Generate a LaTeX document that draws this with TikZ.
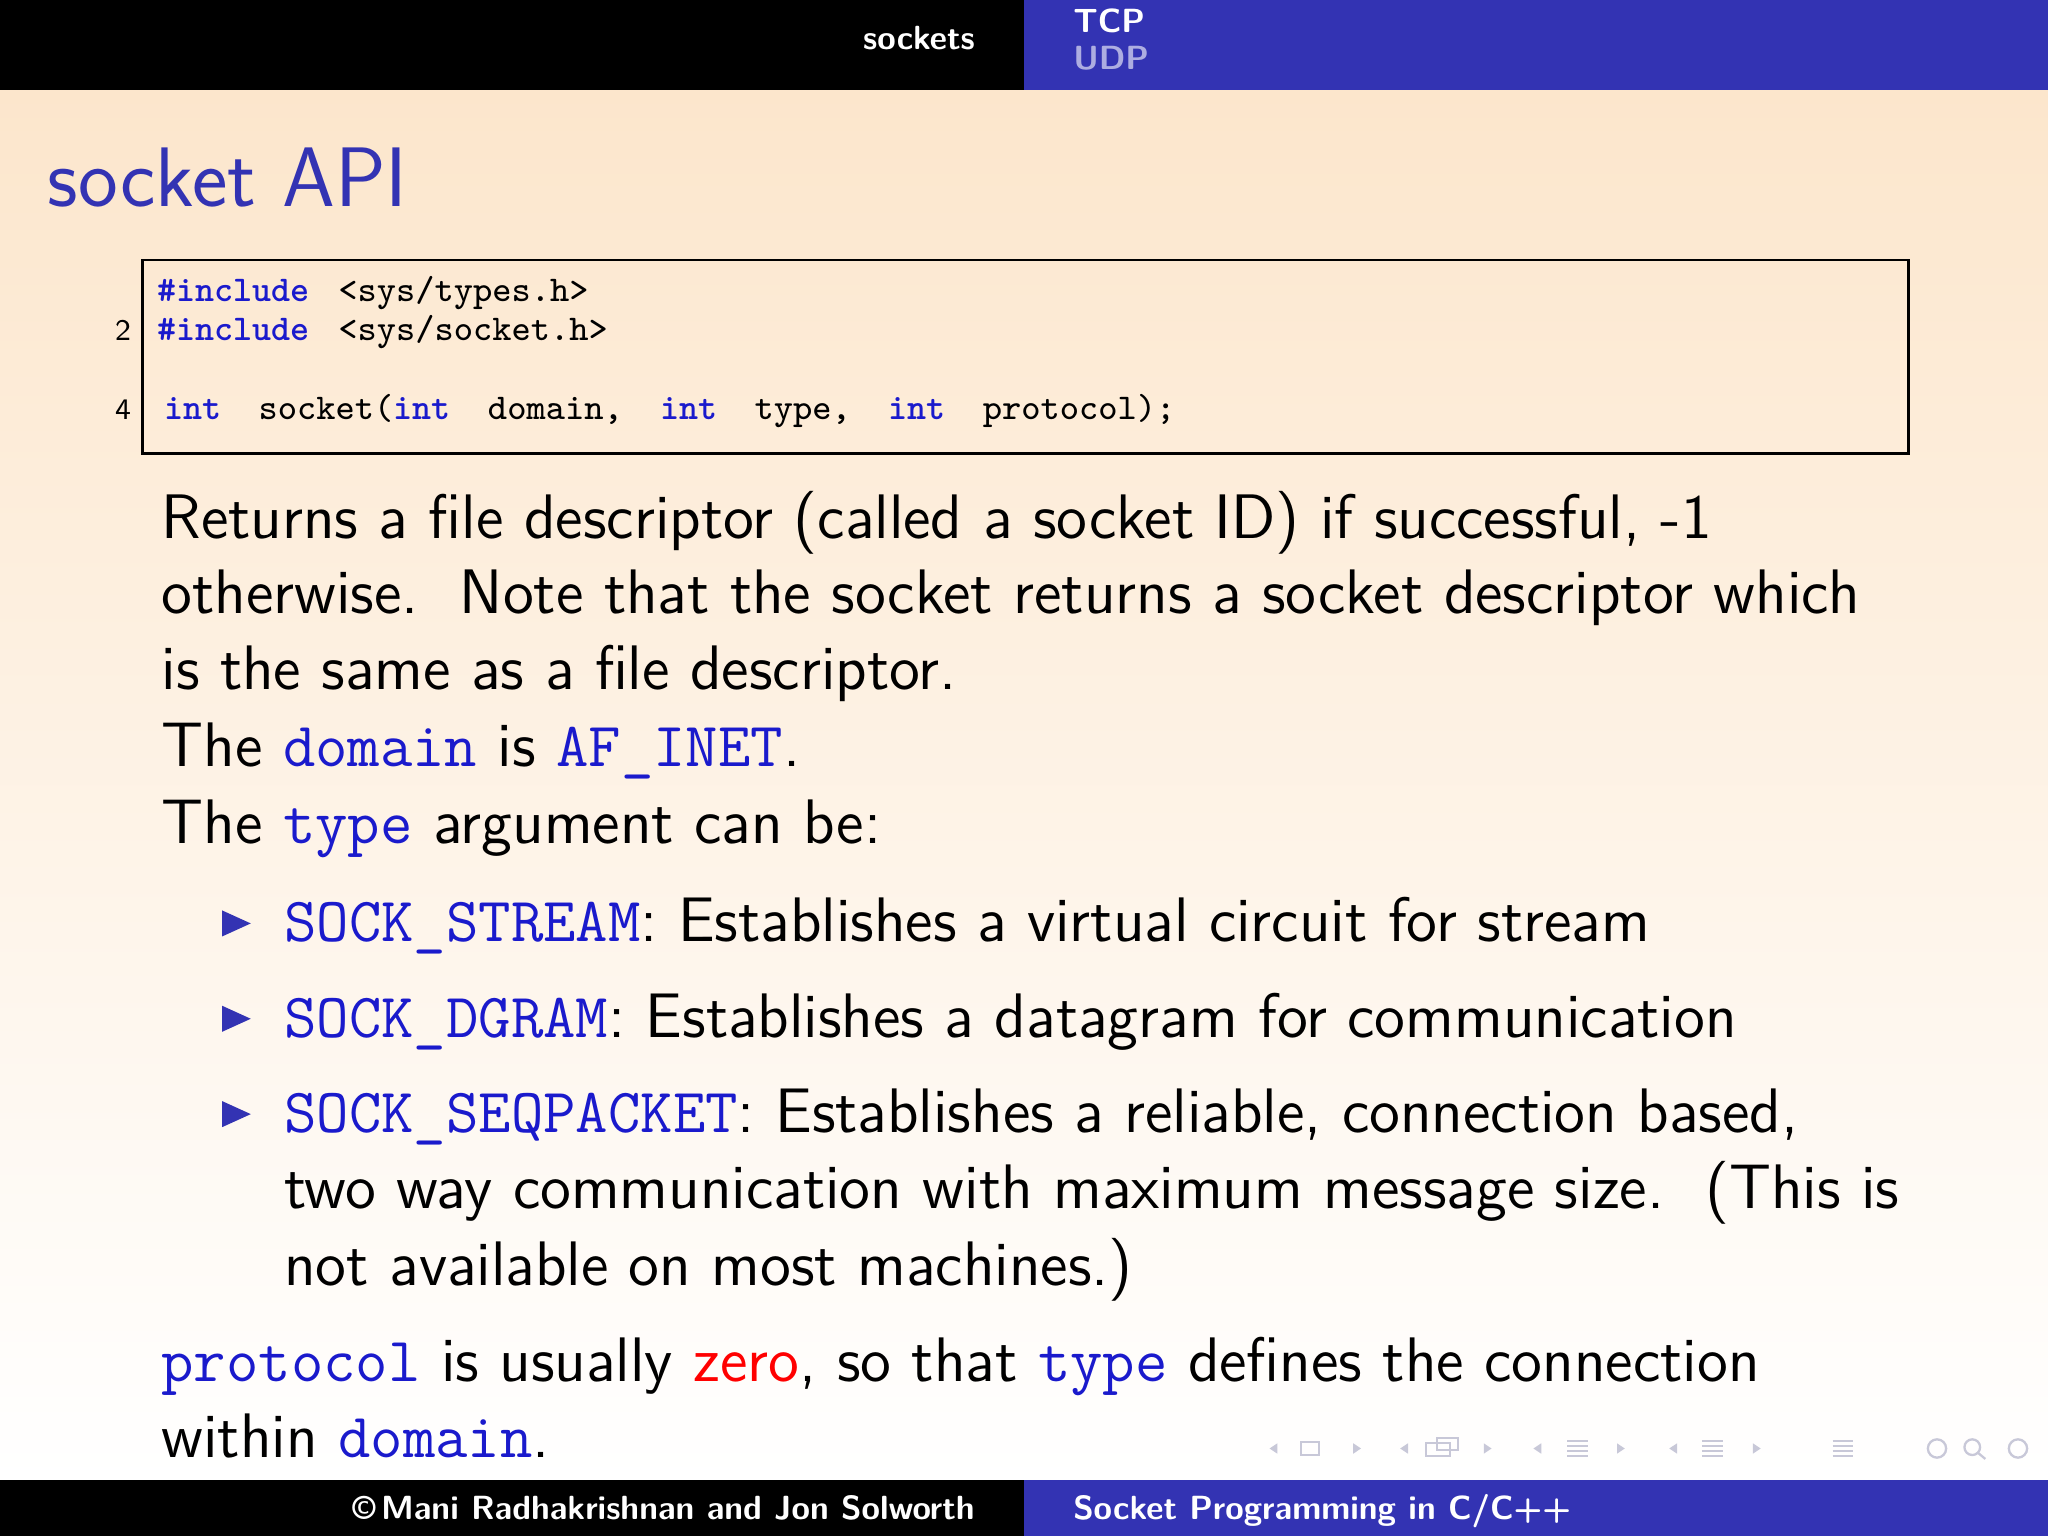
\documentclass[tikz,border=0pt]{standalone}
\usepackage{xcolor}
\definecolor{hdrblue}{HTML}{3333B3}
\definecolor{kw}{HTML}{1A1ACC}
\definecolor{titleblue}{HTML}{3333B3}
\definecolor{bgtop}{HTML}{FCE6CC}
\definecolor{navg}{HTML}{C8C8D8}
\tikzset{
 body/.style={anchor=base west,inner sep=0,font=\sffamily\fontsize{13.7}{16}\selectfont},
 code/.style={anchor=base west,inner sep=0,font=\ttfamily\fontsize{7.9}{9}\selectfont},
 lnum/.style={anchor=base east,inner sep=0,font=\sffamily\fontsize{6.5}{8}\selectfont},
 hdr/.style={anchor=base west,inner sep=0,text=white,font=\sffamily\bfseries\fontsize{7.3}{8}\selectfont},
 bul/.style={fill=hdrblue,draw=none},
}
\newcommand{\kwd}[1]{\textcolor{kw}{\ttfamily\bfseries #1}}
\newcommand{\bt}[1]{\textcolor{kw}{\ttfamily #1}}
\newcommand{\csp}{\hspace{0.25em}}
\begin{document}
\begin{tikzpicture}[y=-1cm,x=1cm]
\useasboundingbox (0,0) rectangle (15.68,11.76);
\shade[top color=bgtop,bottom color=white] (0,0.69) rectangle (15.68,11.33);
\fill[black] (0,0) rectangle (7.84,0.69);
\fill[hdrblue] (7.84,0) rectangle (15.68,0.69);
\fill[black] (0,11.33) rectangle (7.84,11.76);
\fill[hdrblue] (7.84,11.33) rectangle (15.68,11.76);
\node[hdr,anchor=base east] (sk) at (7.47,0.38) {sockets};
\node[hdr] (tcp) at (8.21,0.25) {TCP};
\node[hdr,text=white!60!hdrblue] (udp) at (8.21,0.53) {UDP};
\node[hdr,anchor=base east] (author) at (7.47,11.63) {\textcopyright\,Mani Radhakrishnan and Jon Solworth};
\node[hdr] (ftitle) at (8.21,11.63) {Socket Programming in C/C++};
\node[anchor=base west,inner sep=0,text=titleblue,font=\sffamily\fontsize{18.4}{22}\selectfont] (title) at (0.36,1.58) {socket API};
\node[draw=black,line width=0.6pt,minimum width=13.52cm,minimum height=1.48cm,anchor=north west,inner sep=0] (box) at (1.08,1.98) {};
\node[code] (c1) at (1.2,2.31) {\kwd{\#include}\csp{} <sys/types.h>};
\node[code] (c2) at (1.2,2.61) {\kwd{\#include}\csp{} <sys/socket.h>};
\node[code] (c4) at (1.25,3.21) {\kwd{int}\csp\csp{} socket(\kwd{int}\csp\csp{} domain,\csp\csp{} \kwd{int}\csp\csp{} type,\csp\csp{} \kwd{int}\csp\csp{} protocol);};
\node[lnum] (n2) at (1.01,2.61) {2};
\node[lnum] (n4) at (1.01,3.21) {4};
\node[body] (p1) at (1.23,4.12) {Returns a file descriptor (called a socket ID) if successful, -1};
\node[body] (p2) at (1.23,4.70) {otherwise.\ \ Note that the socket returns a socket descriptor which};
\node[body] (p3) at (1.23,5.28) {is the same as a file descriptor.};
\node[body] (p4) at (1.23,5.87) {The \bt{domain} is \bt{AF\_INET}.};
\node[body] (p5) at (1.23,6.46) {The \bt{type} argument can be:};
\fill[bul] (1.70,6.97) -- (1.92,7.07) -- (1.70,7.17) -- cycle;
\fill[bul] (1.70,7.70) -- (1.92,7.80) -- (1.70,7.90) -- cycle;
\fill[bul] (1.70,8.43) -- (1.92,8.53) -- (1.70,8.63) -- cycle;
\node[body] (b1) at (2.17,7.21) {\bt{SOCK\_STREAM}: Establishes a virtual circuit for stream};
\node[body] (b2) at (2.17,7.94) {\bt{SOCK\_DGRAM}: Establishes a datagram for communication};
\node[body] (b3) at (2.17,8.67) {\bt{SOCK\_SEQPACKET}: Establishes a reliable, connection based,};
\node[body] (b3b) at (2.17,9.25) {two way communication with maximum message size.\ \ (This is};
\node[body] (b3c) at (2.17,9.84) {not available on most machines.)};
\node[body] (q1) at (1.23,10.58) {\bt{protocol} is usually \textcolor{red}{zero}, so that \bt{type} defines the connection};
\node[body] (q2) at (1.23,11.16) {within \bt{domain}.};
\begin{scope}[navg,line width=0.5pt]
\foreach \x in {9.72,10.72,11.74,12.78}{
  \fill (\x,11.09) -- (\x+0.06,11.05) -- (\x+0.06,11.13) -- cycle;}
\foreach \x in {10.36,11.36,12.38,13.42}{
  \fill (\x+0.06,11.09) -- (\x,11.05) -- (\x,11.13) -- cycle;}
\draw (9.96,11.04) rectangle (10.10,11.14);
\draw (10.92,11.05) rectangle (11.10,11.15); \draw (11.0,11.01) rectangle (11.16,11.1);
\foreach \x in {12.0,13.03,14.03}{\foreach \yy in {11.03,11.07,11.11,11.15}{\draw (\x,\yy) -- (\x+0.16,\yy);}}
\draw (14.83,11.09) circle (0.07); \draw (15.1,11.08) circle (0.06); \draw (15.14,11.12) -- (15.2,11.17);
\draw (15.45,11.09) circle (0.07);
\end{scope}
\end{tikzpicture}
\end{document}
